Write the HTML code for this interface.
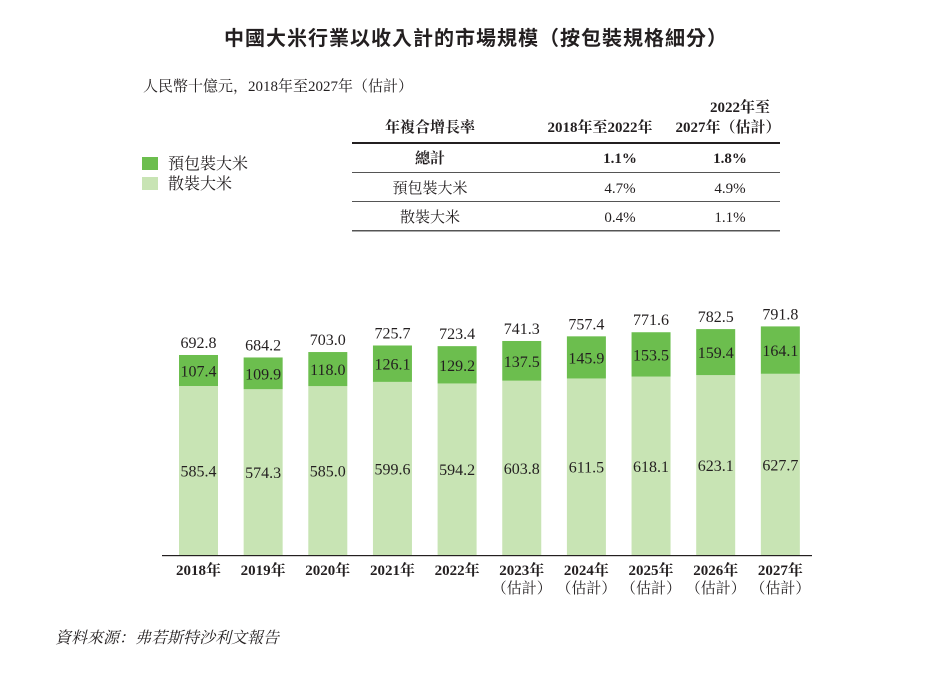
<!DOCTYPE html>
<html><head><meta charset="utf-8"><style>
body{margin:0;background:#fff;}
svg text{font-family:"Liberation Serif","Noto Serif CJK SC","Noto Sans CJK TC",serif;fill:#231f20;}
</style></head><body>
<svg width="952" height="668" viewBox="0 0 952 668" xmlns="http://www.w3.org/2000/svg">
<text x="476" y="45" font-size="20" font-weight="bold" text-anchor="middle" style="font-family:'Noto Sans CJK TC','Noto Sans CJK SC',sans-serif;letter-spacing:1px">中國大米行業以收入計的市場規模（按包裝規格細分）</text>
<text x="143" y="91" font-size="15">人民幣十億元，2018年至2027年（估計）</text>
<rect x="142" y="157" width="16" height="13" fill="#6cbe4e"/>
<text x="168" y="169" font-size="16">預包裝大米</text>
<rect x="142" y="177" width="16" height="13" fill="#c8e4b4"/>
<text x="168" y="189" font-size="16">散裝大米</text>
<g font-size="15" font-weight="bold">
<text x="430" y="132" text-anchor="middle">年複合增長率</text>
<text x="600" y="132" text-anchor="middle">2018年至2022年</text>
<text x="740" y="112" text-anchor="middle">2022年至</text>
<text x="728" y="132" text-anchor="middle">2027年（估計）</text>
<text x="430" y="163" text-anchor="middle">總計</text>
<text x="620" y="163" text-anchor="middle">1.1%</text>
<text x="730" y="163" text-anchor="middle">1.8%</text>
</g>
<g font-size="15">
<text x="430" y="193" text-anchor="middle">預包裝大米</text>
<text x="620" y="193" text-anchor="middle">4.7%</text>
<text x="730" y="193" text-anchor="middle">4.9%</text>
<text x="430" y="222" text-anchor="middle">散裝大米</text>
<text x="620" y="222" text-anchor="middle">0.4%</text>
<text x="730" y="222" text-anchor="middle">1.1%</text>
</g>
<rect x="352" y="142" width="428" height="2" fill="#231f20"/>
<rect x="352" y="172" width="428" height="1" fill="#555"/>
<rect x="352" y="201" width="428" height="1" fill="#555"/>
<rect x="352" y="230" width="428" height="1.5" fill="#555"/>
<g id="bars"></g>
<rect x="162" y="555" width="650" height="1.2" fill="#231f20"/>
<text x="55" y="643" font-size="16" font-style="italic">資料來源：弗若斯特沙利文報告</text>
<script>
var loose=[585.4,574.3,585.0,599.6,594.2,603.8,611.5,618.1,623.1,627.7];
var pack=[107.4,109.9,118.0,126.1,129.2,137.5,145.9,153.5,159.4,164.1];
var tot=["692.8","684.2","703.0","725.7","723.4","741.3","757.4","771.6","782.5","791.8"];
var g=document.getElementById('bars'),ns="http://www.w3.org/2000/svg",k=0.2887,B=555;
function el(n,a,t){var e=document.createElementNS(ns,n);for(var i in a)e.setAttribute(i,a[i]);if(t)e.textContent=t;g.appendChild(e);return e;}
for(var i=0;i<10;i++){
 var c=198.5+i*64.65, hl=loose[i]*k, hp=pack[i]*k, yl=B-hl, yp=yl-hp;
 el('rect',{x:c-19.5,y:yl,width:39,height:hl,fill:'#c8e4b4'});
 el('rect',{x:c-19.5,y:yp,width:39,height:hp,fill:'#6cbe4e'});
 el('text',{x:c,y:yl+hl/2+6,'font-size':16,'text-anchor':'middle'},loose[i].toFixed(1));
 el('text',{x:c,y:yp+hp/2+6,'font-size':16,'text-anchor':'middle'},pack[i].toFixed(1));
 el('text',{x:c,y:yp-7,'font-size':16,'text-anchor':'middle'},tot[i]);
 el('text',{x:c,y:575,'font-size':15,'font-weight':'bold','text-anchor':'middle'},(2018+i)+'年');
 if(i>=5)el('text',{x:c,y:593,'font-size':15,'text-anchor':'middle'},'（估計）');
}
</script>
</svg>
</body></html>
